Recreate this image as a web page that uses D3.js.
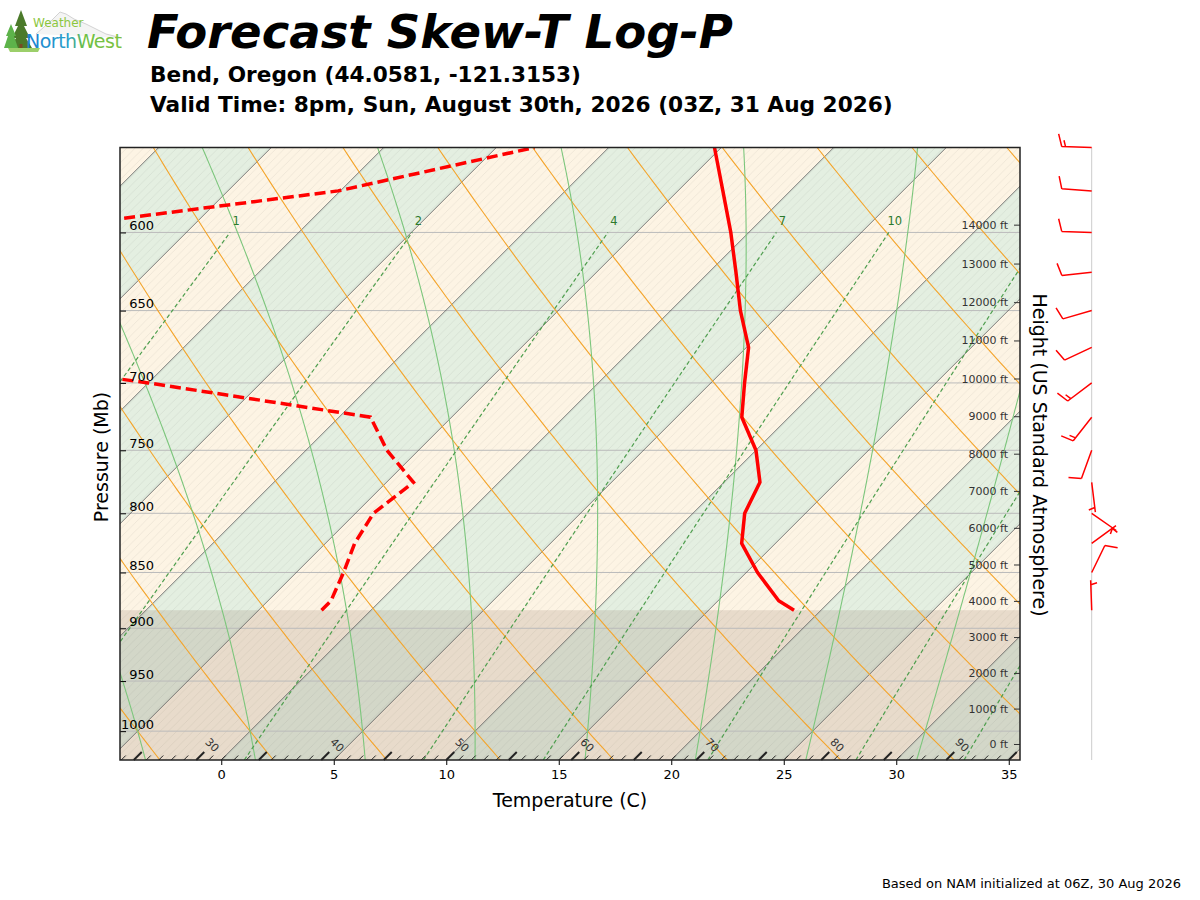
<!DOCTYPE html>
<html>
<head>
<meta charset="utf-8">
<script src="https://cdn.jsdelivr.net/npm/d3@7"></script>
<style>
  body { margin: 0; background: #fff; }
  svg { font-family: "DejaVu Sans", sans-serif; }
</style>
</head>
<body>
<svg id="chart" width="1200" height="900"></svg>
<script>
// Sounding data (pressure in mb, temps in C)
const levels = [883.5, 875, 850, 825, 800, 775, 750, 725, 700, 675, 650, 625, 600, 575, 550];
const temps = [18.8, 17.7, 15.5, 13.5, 12.3, 11.6, 10.0, 7.9, 6.5, 5.1, 3.1, 1.2, -0.8, -3.0, -5.3];
const dewpoints = [-2.2, -2.2, -2.9, -3.7, -4.2, -3.8, -6.4, -8.6, -20.0, -33.0, -36.0, -35.0, -32.7, -20.1, -13.3];

// Winds (direction deg, speed kt)
const windLevels = [883.5, 850, 825, 800, 775, 750, 725, 700, 675, 650, 625, 600, 575, 550];
const windDir = [358, 26, 54, 125, 173, 200, 218, 233, 245, 254, 264, 272, 274, 272];
const windSpd = [5, 10, 5, 5, 5, 10, 15, 15, 10, 10, 10, 10, 10, 15];

// Background lines
const isotherms = [-40, -35, -30, -25, -20, -15, -10, -5, 0, 5, 10, 15, 20, 25, 30, 35, 40];
const dryAdiabats = [-20, -15, -10, -5, 0, 5, 10, 15, 20, 25, 30, 35, 40, 45, 50, 55, 60, 65, 70, 75, 80];
const moistAdiabats = [-20, -15, -10, -5, 0, 5, 10, 15, 20, 25, 30, 35, 40, 45];
const mixingRatios = [0.4, 1, 2, 4, 7, 10, 16, 24, 32];
const mixingLabels = [1, 2, 4, 7, 10];

// Axis ticks
const tempTicks = [0, 5, 10, 15, 20, 25, 30, 35];
const pressureTicks = [600, 650, 700, 750, 800, 850, 900, 950, 1000];
const heightTicksFt = [0, 1000, 2000, 3000, 4000, 5000, 6000, 7000, 8000, 9000, 10000, 11000, 12000, 13000, 14000];
const fahrenheitLabels = [30, 40, 50, 60, 70, 80, 90];
const surfacePressure = 883.5;

// Layout
const xLeft = 120, xRight = 1020, yTop = 147.5, yBot = 760;
const pBot = 1030, pTop = 550;
const colorCream = '#fdf4e4';
const colorGreen = '#e4efe1';
const colorOrange = '#f4a42a';
const colorMoist = '#7cc67c';
const colorMix = '#4e9e4e';

const svg = d3.select('#chart');
const x = d3.scaleLinear().domain([-4.5, 35.5]).range([xLeft, xRight]);
const y = d3.scaleLog().domain([pBot, pTop]).range([yBot, yTop]);
// 45 degree skew
const sx = (t, p) => x(t) + (yBot - y(p));
const line = d3.line();

const defs = svg.append('defs');
defs.append('clipPath').attr('id', 'plotClip')
  .append('rect').attr('x', xLeft).attr('y', yTop).attr('width', xRight - xLeft).attr('height', yBot - yTop);
const hatch = defs.append('pattern').attr('id', 'hatch')
  .attr('patternUnits', 'userSpaceOnUse').attr('width', 8.33).attr('height', 8.33);
hatch.append('path').attr('d', 'M0,8.33 L8.33,0 M-2,2 L2,-2 M6.33,10.33 L10.33,6.33')
  .attr('stroke', 'rgba(0,0,0,0.07)').attr('stroke-width', 0.8);
const grad = defs.append('linearGradient').attr('id', 'logoGrad').attr('x1', 0).attr('x2', 1);
grad.append('stop').attr('offset', '0%').attr('stop-color', '#1c7fd3');
grad.append('stop').attr('offset', '45%').attr('stop-color', '#2aa0c8');
grad.append('stop').attr('offset', '60%').attr('stop-color', '#6cbf45');
grad.append('stop').attr('offset', '100%').attr('stop-color', '#7cc242');

const plot = svg.append('g').attr('clip-path', 'url(#plotClip)');

// Alternating isotherm bands
plot.selectAll('.band').data(isotherms.slice(0, -1)).join('path')
  .attr('d', t => line([[sx(t, pBot), yBot], [sx(t + 5, pBot), yBot], [sx(t + 5, pTop), yTop], [sx(t, pTop), yTop]]) + 'Z')
  .attr('fill', t => Math.abs(Math.round(t / 5)) % 2 === 0 ? colorGreen : colorCream);
plot.append('rect').attr('x', xLeft).attr('y', yTop).attr('width', xRight - xLeft).attr('height', yBot - yTop)
  .attr('fill', 'url(#hatch)');

// Terrain (below surface pressure)
plot.append('rect').attr('x', xLeft).attr('y', y(surfacePressure)).attr('width', xRight - xLeft)
  .attr('height', yBot - y(surfacePressure)).attr('fill', 'rgba(122,94,72,0.16)');

// Pressure grid
plot.selectAll('.pgrid').data(pressureTicks).join('line')
  .attr('x1', xLeft).attr('x2', xRight).attr('y1', d => y(d)).attr('y2', d => y(d))
  .attr('stroke', '#bbb').attr('stroke-width', 1);

// Isotherms
plot.selectAll('.iso').data(isotherms).join('line')
  .attr('x1', t => sx(t, pBot)).attr('y1', yBot).attr('x2', t => sx(t, pTop)).attr('y2', yTop)
  .attr('stroke', '#555').attr('stroke-width', 0.8);

const pGrid = d3.range(pBot, pTop - 1, -5);

// Dry adiabats
plot.selectAll('.dry').data(dryAdiabats).join('path')
  .attr('d', th => line(pGrid.map(p => [sx((th + 273.15) * Math.pow(p / 1000, 0.2857) - 273.15, p), y(p)])))
  .attr('fill', 'none').attr('stroke', colorOrange).attr('stroke-width', 1.1);

// Moist adiabats
function moistAdiabat(t0) {
  const Rd = 287.04749, Cp = 1004.6662, Lv = 2.50084e6, eps = 0.6219569;
  const f = (p, T) => {
    const es = 6.112 * Math.exp(17.67 * (T - 273.15) / (T - 29.65));
    const rs = eps * es / (p - es);
    return (Rd * T + Lv * rs) / (Cp + Lv * Lv * rs * eps / (Rd * T * T)) / p;
  };
  const run = (pEnd, h) => {
    let T = t0 + 273.15, p = 1000;
    const out = [[p, T]];
    while ((h < 0 && p > pEnd) || (h > 0 && p < pEnd)) {
      const k1 = f(p, T), k2 = f(p + h / 2, T + h / 2 * k1);
      const k3 = f(p + h / 2, T + h / 2 * k2), k4 = f(p + h, T + h * k3);
      T += h / 6 * (k1 + 2 * k2 + 2 * k3 + k4);
      p += h;
      out.push([p, T]);
    }
    return out;
  };
  const pts = run(pBot + 5, 5).reverse().concat(run(pTop - 5, -5).slice(1));
  return pts.map(([p, T]) => [sx(T - 273.15, p), y(p)]);
}
plot.selectAll('.moist').data(moistAdiabats).join('path')
  .attr('d', t => line(moistAdiabat(t)))
  .attr('fill', 'none').attr('stroke', colorMoist).attr('stroke-width', 1.1);

// Mixing ratio lines
const dewFromW = (w, p) => {
  const e = (w / 1000) * p / (0.622 + w / 1000);
  const l = Math.log(e / 6.112);
  return 243.5 * l / (17.67 - l);
};
const pMix = d3.range(pBot, 599, -10);
plot.selectAll('.mix').data(mixingRatios).join('path')
  .attr('d', w => line(pMix.map(p => [sx(dewFromW(w, p), p), y(p)])))
  .attr('fill', 'none').attr('stroke', colorMix).attr('stroke-width', 1.2)
  .attr('stroke-dasharray', '4,2.6');
plot.selectAll('.mixlab').data(mixingLabels).join('text')
  .attr('x', w => sx(dewFromW(w, 600), 600) + 6).attr('y', y(600) - 7)
  .attr('text-anchor', 'middle').attr('font-size', 11.5).attr('fill', '#2c7a2c')
  .text(d => d);

// Fahrenheit ticks along the bottom
const fTicks = d3.range(10, 100);
const fG = svg.append('g');
fTicks.forEach(f => {
  const xb = x((f - 32) * 5 / 9);
  if (xb < xLeft + 1 || xb > xRight - 2) return;
  const major = f % 5 === 0;
  const len = major ? 8 : 4.5;
  fG.append('line').attr('x1', xb).attr('y1', yBot).attr('x2', xb + len).attr('y2', yBot - len)
    .attr('stroke', '#222').attr('stroke-width', major ? 2 : 1);
});
fG.selectAll('text').data(fahrenheitLabels).join('text')
  .attr('transform', f => `translate(${x((f - 32) * 5 / 9) + 16},${yBot - 15}) rotate(45)`)
  .attr('text-anchor', 'middle').attr('dy', '0.35em')
  .attr('font-size', 11).attr('fill', '#333').text(d => d);

// Profiles
const profile = svg.append('g').attr('clip-path', 'url(#plotClip)');
profile.append('path')
  .attr('d', line(levels.map((p, i) => [sx(temps[i], p), y(p)])))
  .attr('fill', 'none').attr('stroke', '#ff0000').attr('stroke-width', 3.5)
  .attr('stroke-linejoin', 'round');
profile.append('path')
  .attr('d', line(levels.map((p, i) => [sx(dewpoints[i], p), y(p)])))
  .attr('fill', 'none').attr('stroke', '#ff0000').attr('stroke-width', 3.5)
  .attr('stroke-dasharray', '11,5');

// Axes
const xAxis = svg.append('g').attr('transform', `translate(0,${yBot})`)
  .call(d3.axisBottom(x).tickValues(tempTicks).tickSize(5).tickPadding(5))
  .call(g => g.select('.domain').remove());
xAxis.selectAll('text').attr('font-size', 13).attr('font-family', 'DejaVu Sans').attr('fill', '#000');

const pAxis = svg.append('g').attr('transform', `translate(${xLeft},0)`)
  .call(d3.axisRight(y).tickValues(pressureTicks).tickSize(6).tickFormat(d3.format('d')))
  .call(g => g.select('.domain').remove());
pAxis.selectAll('text').attr('x', 34).attr('dy', '-0.2em').attr('text-anchor', 'end')
  .attr('font-size', 13).attr('font-family', 'DejaVu Sans').attr('fill', '#000');

const stdPressure = ft => 1013.25 * Math.pow(1 - 2.25577e-5 * ft * 0.3048, 5.25588);
const hScale = d3.scaleLinear().domain(heightTicksFt).range(heightTicksFt.map(h => y(stdPressure(h))));
const hAxis = svg.append('g').attr('transform', `translate(${xRight},0)`)
  .call(d3.axisLeft(hScale).tickValues(heightTicksFt).tickSize(6).tickPadding(6).tickFormat(d => d + ' ft'))
  .call(g => g.select('.domain').remove());
hAxis.selectAll('text').attr('font-size', 11).attr('font-family', 'DejaVu Sans').attr('fill', '#333');
hAxis.selectAll('line').attr('stroke', '#333');

// Frame
svg.append('rect').attr('x', xLeft).attr('y', yTop).attr('width', xRight - xLeft).attr('height', yBot - yTop)
  .attr('fill', 'none').attr('stroke', '#222').attr('stroke-width', 1.5);

// Wind barbs
const staffX = 1091.7;
svg.append('line').attr('x1', staffX).attr('x2', staffX).attr('y1', yTop).attr('y2', yBot)
  .attr('stroke', '#ccc').attr('stroke-width', 1);
const barbs = svg.append('g').attr('stroke', '#ff0000').attr('stroke-width', 1.5).attr('fill', 'none');
windLevels.forEach((p, i) => {
  const by = y(p);
  const r = windDir[i] * Math.PI / 180;
  const u = [Math.sin(r), -Math.cos(r)];
  const n = [-u[1], u[0]];
  const L = 30, bl = 12.5, tilt = 3.5, sp = 3.8;
  const tip = [staffX + u[0] * L, by + u[1] * L];
  let d = `M${staffX},${by}L${tip[0]},${tip[1]}`;
  const rounded = Math.round(windSpd[i] / 5) * 5;
  const full = Math.floor(rounded / 10);
  const half = rounded % 10 >= 5;
  let pos = (full === 0 && half) ? sp * 1.2 : 0;
  for (let k = 0; k < full; k++) {
    const pt = [tip[0] - u[0] * pos, tip[1] - u[1] * pos];
    d += `M${pt[0]},${pt[1]}L${pt[0] + n[0] * bl + u[0] * tilt},${pt[1] + n[1] * bl + u[1] * tilt}`;
    pos += sp;
  }
  if (half) {
    const pt = [tip[0] - u[0] * pos, tip[1] - u[1] * pos];
    d += `M${pt[0]},${pt[1]}L${pt[0] + n[0] * bl / 2 + u[0] * tilt / 2},${pt[1] + n[1] * bl / 2 + u[1] * tilt / 2}`;
  }
  barbs.append('path').attr('d', d);
});

// Axis titles
svg.append('text').attr('x', (xLeft + xRight) / 2).attr('y', 807).attr('text-anchor', 'middle')
  .attr('font-size', 19).text('Temperature (C)');
svg.append('text').attr('transform', 'translate(108,457) rotate(-90)').attr('text-anchor', 'middle')
  .attr('font-size', 19).text('Pressure (Mb)');
svg.append('text').attr('transform', 'translate(1033,455) rotate(90)').attr('text-anchor', 'middle')
  .attr('font-size', 19).text('Height (US Standard Atmosphere)');

// Titles
function fitText(sel, width) {
  const w = sel.node().getComputedTextLength();
  sel.attr('font-size', parseFloat(sel.attr('font-size')) * width / w);
}
const title = svg.append('text').attr('x', 147).attr('y', 48).attr('font-size', 46)
  .attr('font-weight', 'bold').attr('font-style', 'italic').text('Forecast Skew-T Log-P');
fitText(title, 586);
const sub1 = svg.append('text').attr('x', 150).attr('y', 82).attr('font-size', 21)
  .attr('font-weight', 'bold').text('Bend, Oregon (44.0581, -121.3153)');
fitText(sub1, 431);
const sub2 = svg.append('text').attr('x', 150).attr('y', 112).attr('font-size', 21)
  .attr('font-weight', 'bold').text('Valid Time: 8pm, Sun, August 30th, 2026 (03Z, 31 Aug 2026)');
fitText(sub2, 743);
svg.append('text').attr('x', 1181).attr('y', 888).attr('text-anchor', 'end').attr('font-size', 13)
  .text('Based on NAM initialized at 06Z, 30 Aug 2026');

// Logo
const logo = svg.append('g');
logo.append('path').attr('d', 'M36,34 L52,20 L60,12 L66,14 L74,19 L86,24 L106,34 L122,38')
  .attr('fill', '#f4f4f4').attr('stroke', '#c8c8c8').attr('stroke-width', 0.8);
logo.append('path').attr('d', 'M21,10 L15,26 L18,26 L12,38 L16,38 L10,48 L32,48 L26,38 L30,38 L24,26 L27,26 Z')
  .attr('fill', '#4b7a2a');
logo.append('rect').attr('x', 19.5).attr('y', 44).attr('width', 3).attr('height', 6).attr('fill', '#7a4a22');
logo.append('path').attr('d', 'M11,24 L6,36 L8,36 L4,48 L18,48 L14,36 L16,36 Z').attr('fill', '#5db34a');
logo.append('path').attr('d', 'M8,48 L40,48 L38,52 L10,52 Z').attr('fill', '#9ccf6a');
logo.append('text').attr('x', 33).attr('y', 27).attr('font-size', 12).attr('fill', '#8cc63f').text('Weather');
logo.append('text').attr('x', 26).attr('y', 48).attr('font-size', 19).attr('fill', 'url(#logoGrad)')
  .attr('letter-spacing', -0.5).text('NorthWest');
</script>
</body>
</html>
